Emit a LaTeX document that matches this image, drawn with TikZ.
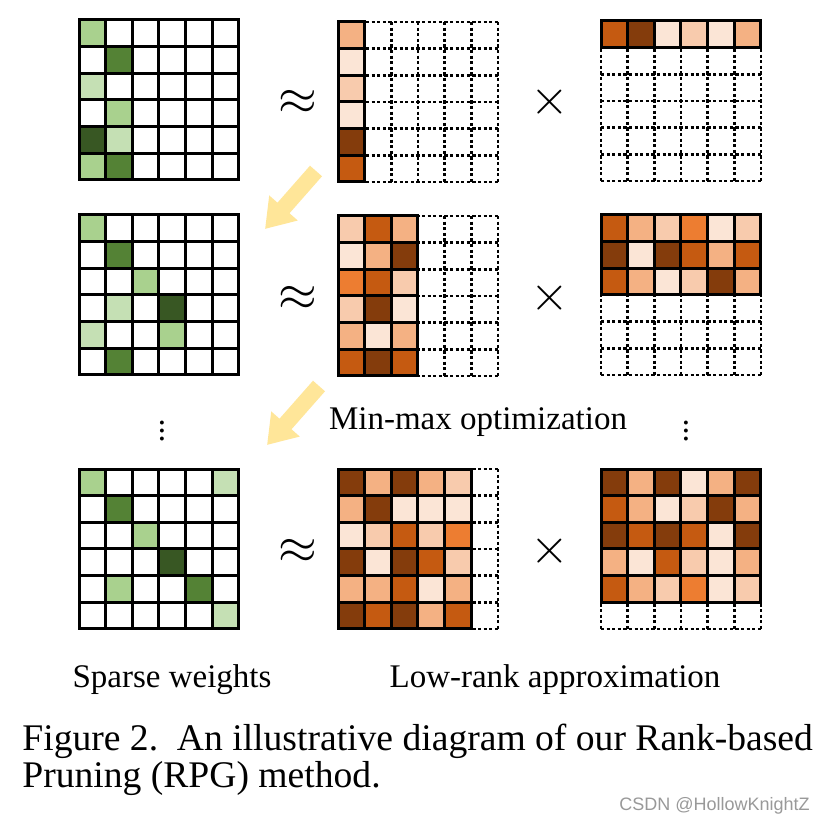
\documentclass[tikz,border=0pt]{standalone}
\usepackage{fontspec}
\setmainfont{Liberation Serif}
\newfontfamily\markfont{Liberation Sans}
\usetikzlibrary{arrows.meta}

\definecolor{gA}{HTML}{C5E0B4}
\definecolor{gB}{HTML}{A9D18E}
\definecolor{gC}{HTML}{548235}
\definecolor{gD}{HTML}{385723}
\definecolor{oA}{HTML}{FBE5D6}
\definecolor{oB}{HTML}{F8CBAD}
\definecolor{oC}{HTML}{F4B183}
\definecolor{oD}{HTML}{ED7D31}
\definecolor{oE}{HTML}{C55A11}
\definecolor{oF}{HTML}{843C0C}
\definecolor{flowyellow}{HTML}{FFE699}

\tikzset{
  wcell/.style={draw=black,line width=1.5pt},
  fcell/.style={draw=black,line width=1.5pt},
  dotline/.style={draw=black,line width=1.4pt,dash pattern=on 1.6pt off 1.2pt},
  flow/.style={draw=flowyellow,line width=8pt,-{Triangle[width=18pt,length=14pt]}},
  lbl/.style={font=\fontsize{16.5}{20}\selectfont},
  op/.style={font=\fontsize{26}{26}\selectfont},
  capt/.style={anchor=base west,inner sep=0pt,font=\fontsize{18.8}{19}\selectfont},
}

\begin{document}
\begin{tikzpicture}[x=0.5pt,y=-0.5pt]
\useasboundingbox[fill=white] (0,0) rectangle (822,822);

% sparse weights, one per step
\foreach \y/\cells in {20/{0/0/gB,1/1/gC,2/0/gA,3/1/gB,4/0/gD,4/1/gA,5/0/gB,5/1/gC},
    215/{0/0/gB,1/1/gC,2/2/gB,3/1/gA,3/3/gD,4/0/gA,4/3/gB,5/1/gC},
    469/{0/0/gB,0/5/gA,1/1/gC,2/2/gB,3/3/gD,4/1/gB,4/4/gC,5/5/gA}} {
  \begin{scope}[shift={(79,\y)},x=13.33pt,y=-13.33pt]
    \foreach \r/\c/\col in \cells
      \fill[\col] (\c,\r) rectangle +(1,1);
    \foreach \r in {0,...,5}
      \foreach \c in {0,...,5}
        \draw[wcell] (\c,\r) rectangle +(1,1);
  \end{scope}
}

% dotted grids of the two factors
\foreach \x/\y in {338/22,601/21,338/216,601/215,338/469,601/469} {
  \begin{scope}[shift={(\x,\y)},x=13.33pt,y=-13.33pt]
    \foreach \i in {0,...,6} {
      \draw[dotline] (\i,0) -- (\i,6);
      \draw[dotline] (0,\i) -- (6,\i);
    }
  \end{scope}
}

% left factors
\foreach \x/\y/\rows in {338/22/{{oC},{oA},{oB},{oA},{oF},{oE}},
    338/216/{{oB,oE,oC},{oA,oC,oF},{oD,oE,oB},{oB,oF,oA},{oC,oA,oC},{oE,oF,oE}},
    338/469/{{oF,oC,oF,oC,oB},{oC,oF,oA,oA,oA},{oA,oB,oE,oB,oD},{oF,oA,oF,oE,oB},{oC,oC,oE,oA,oC},{oF,oE,oF,oC,oE}}} {
  \begin{scope}[shift={(\x,\y)},x=13.33pt,y=-13.33pt]
    \foreach \row [count=\r from 0] in \rows
      \foreach \col [count=\c from 0] in \row
        \filldraw[fcell,fill=\col] (\c,\r) rectangle +(1,1);
  \end{scope}
}

% right factors
\foreach \x/\y/\rows in {601/21/{{oE,oF,oA,oB,oA,oC}},
    601/215/{{oE,oC,oB,oD,oA,oB},{oF,oA,oF,oE,oC,oE},{oE,oC,oA,oB,oF,oC}},
    601/469/{{oF,oC,oF,oA,oC,oF},{oE,oC,oA,oB,oF,oC},{oF,oE,oF,oE,oA,oF},{oC,oA,oE,oB,oA,oC},{oE,oC,oB,oD,oA,oB}}} {
  \begin{scope}[shift={(\x,\y)},x=13.33pt,y=-13.33pt]
    \foreach \row [count=\r from 0] in \rows
      \foreach \col [count=\c from 0] in \row
        \filldraw[fcell,fill=\col] (\c,\r) rectangle +(1,1);
  \end{scope}
}

% operators
\node[op] (ap1) at (298,102) {$\approx$};
\node[op] (ap2) at (298,298) {$\approx$};
\node[op] (ap3) at (298,551) {$\approx$};
\node[op] (ti1) at (550,102) {$\times$};
\node[op] (ti2) at (550,298) {$\times$};
\node[op] (ti3) at (550,551) {$\times$};

% steps
\coordinate (s1) at (316,171);
\coordinate (e1) at (265,229);
\coordinate (s2) at (319,386);
\coordinate (e2) at (267,445);
\draw[flow] (s1) -- (e1);
\draw[flow] (s2) -- (e2);

\node[lbl,inner sep=0pt] (vd1) at (162,425) {$\vdots$};
\node[lbl,inner sep=0pt] (vd2) at (686,425) {$\vdots$};
\node[lbl] (opt) at (478,422) {Min-max optimization};

\node[lbl] (sw) at (172,680) {Sparse weights};
\node[lbl] (lr) at (555,680) {Low-rank approximation};

\node[capt] (cap1) at (22,750) {Figure 2.\ \ An illustrative diagram of our Rank-based};
\node[capt] (cap2) at (22,787) {Pruning (RPG) method.};
\node[anchor=base east,inner sep=0pt,text=black!40,font=\markfont\fontsize{9}{10}\selectfont] (mark) at (810,810)
  {CSDN @HollowKnightZ};
\end{tikzpicture}
\end{document}
